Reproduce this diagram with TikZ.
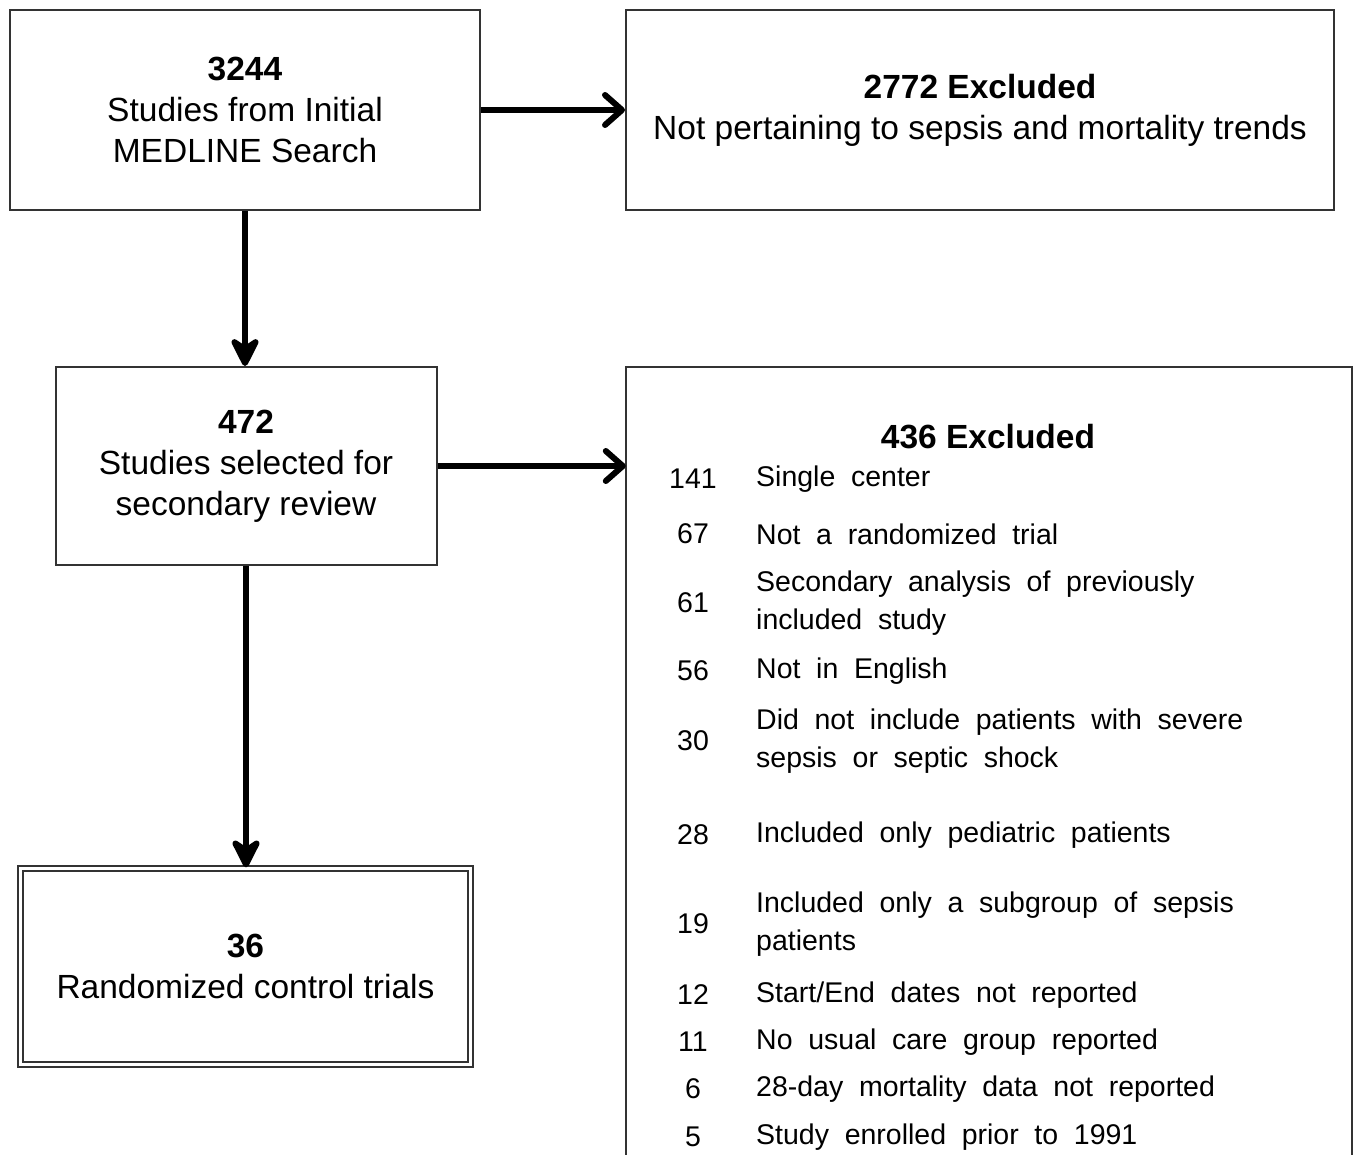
\documentclass[tikz,border=0pt]{standalone}
\usepackage{fontspec}
\setmainfont{Liberation Sans}
\usetikzlibrary{arrows.meta,positioning}
\newcommand{\boxfont}{\fontsize{33.5}{41}\selectfont}
\newcommand{\listfont}{\fontsize{28.5}{38}\selectfont\spaceskip=0.55em\relax}

\tikzset{
  flowbox/.style={rectangle, draw=black!80, line width=2pt, align=center, font=\boxfont, inner sep=0pt},
  listitem/.style={font=\listfont, inner sep=0pt},
  sidearrow/.style={-{Straight Barb[length=17pt,width=30pt,line cap=round,line join=round]}, line width=6pt},
  downarrow/.style={-{Stealth[length=36pt,width=36pt,inset=12pt,line join=round]}, line width=6pt},
}

\begin{document}
\begin{tikzpicture}[x=1pt,y=-1pt]
      \useasboundingbox (0,0) rectangle (1357,1155);

      \node[flowbox, minimum width=470, minimum height=200] (search) at (245,110) {\textbf{3244}\\Studies from Initial\\MEDLINE Search};
      \node[flowbox, minimum width=708, minimum height=200] (excl1) at (980,110) {\textbf{2772 Excluded}\\Not pertaining to sepsis and mortality trends};
      \node[flowbox, minimum width=381, minimum height=198] (review) at (246,466) {\textbf{472}\\Studies selected for\\secondary review};
      \node[minimum width=726, minimum height=790, inner sep=0pt] (excl2) at (989,762) {};
      \node[flowbox, minimum width=450, minimum height=196, line width=2.3pt, double=white, double distance=2.5pt] (rct) at (245.5,966.5) {\textbf{36}\\Randomized control trials};

      \draw[draw=black!80, line width=2pt] (excl2.south west) |- (excl2.north east) -- (excl2.south east);
      \node[font=\boxfont\bfseries] (head) at (988,437) {436 Excluded};

      \foreach \y/\n/\t in {479/141/Single center,
                            534/67/Not a randomized trial,
                            603/61/{Secondary analysis of previously\\included study},
                            671/56/Not in English,
                            741/30/{Did not include patients with severe\\sepsis or septic shock},
                            835/28/Included only pediatric patients,
                            924/19/{Included only a subgroup of sepsis\\patients},
                            995/12/{Start/End dates not reported},
                            1042/11/No usual care group reported,
                            1089/6/28-day mortality data not reported,
                            1137/5/Study enrolled prior to 1991}
      {
        \node[listitem] (n\n) at (693,\y) {\n};
        \node[listitem, anchor=west, align=left] (t\n) at (756,\y) {\t};
      }

      \draw[sidearrow] (search) -- (excl1);
      \draw[sidearrow] (review) -- (excl2.west |- review);
      \draw[downarrow] (search.south) -- (search.south |- review.north);
      \draw[downarrow] (review.south) -- (review.south |- rct.north);
    \end{tikzpicture}
\end{document}
